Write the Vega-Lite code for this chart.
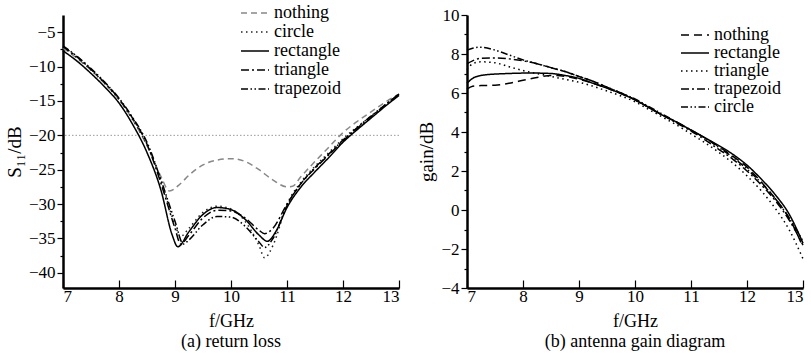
{
  "$schema": "https://vega.github.io/schema/vega-lite/v6.json",
  "padding": {"left": 5, "top": 6, "right": 5, "bottom": 2},
  "autosize": {"type": "pad"},
  "spacing": 68,
  "bounds": "flush",
  "config": {
    "font": "Times New Roman, Liberation Serif, serif",
    "view": {"stroke": null},
    "text": {"font": "Times New Roman, Liberation Serif, serif"},
    "axis": {
      "labelFont": "Times New Roman, Liberation Serif, serif", "labelFontSize": 17, "labelColor": "black", "labelOverlap": false,
      "titleFont": "Times New Roman, Liberation Serif, serif", "titleFontSize": 19, "titleFontWeight": "normal", "titleColor": "black",
      "domainColor": "black", "domainWidth": 2.5, "tickColor": "black", "tickWidth": 1.2, "grid": false
    },
    "legend": {
      "labelFont": "Times New Roman, Liberation Serif, serif", "labelFontSize": 18, "labelColor": "black",
      "symbolType": "stroke", "symbolSize": 784, "symbolStrokeWidth": 1.5, "labelOffset": 4, "rowPadding": 0
    },
    "title": {"font": "Times New Roman, Liberation Serif, serif", "fontSize": 19, "fontWeight": "normal", "color": "black"}
  },
  "datasets": {
    "s11": [
      {"s":"nothing","f":7,"v":-7.3},{"s":"nothing","f":7.25,"v":-8.8},{"s":"nothing","f":7.5,"v":-10.5},{"s":"nothing","f":7.75,"v":-12.5},{"s":"nothing","f":8,"v":-14.8},{"s":"nothing","f":8.25,"v":-17.8},{"s":"nothing","f":8.5,"v":-21.5},{"s":"nothing","f":8.75,"v":-26.0},{"s":"nothing","f":8.9,"v":-28.1},{"s":"nothing","f":9.1,"v":-27.0},{"s":"nothing","f":9.25,"v":-25.8},{"s":"nothing","f":9.5,"v":-24.3},{"s":"nothing","f":9.75,"v":-23.6},{"s":"nothing","f":10,"v":-23.4},{"s":"nothing","f":10.25,"v":-23.8},{"s":"nothing","f":10.5,"v":-25.0},{"s":"nothing","f":10.75,"v":-26.5},{"s":"nothing","f":11,"v":-27.5},{"s":"nothing","f":11.1,"v":-27.4},{"s":"nothing","f":11.25,"v":-26.0},{"s":"nothing","f":11.5,"v":-23.8},{"s":"nothing","f":11.75,"v":-21.7},{"s":"nothing","f":12,"v":-19.6},{"s":"nothing","f":12.25,"v":-18.0},{"s":"nothing","f":12.5,"v":-16.6},{"s":"nothing","f":12.75,"v":-15.2},{"s":"nothing","f":13,"v":-14.0},
      {"s":"circle","f":7,"v":-7.2},{"s":"circle","f":7.25,"v":-8.7},{"s":"circle","f":7.5,"v":-10.5},{"s":"circle","f":7.75,"v":-12.5},{"s":"circle","f":8,"v":-14.8},{"s":"circle","f":8.25,"v":-17.8},{"s":"circle","f":8.5,"v":-21.4},{"s":"circle","f":8.75,"v":-26.5},{"s":"circle","f":9,"v":-33.0},{"s":"circle","f":9.1,"v":-34.7},{"s":"circle","f":9.25,"v":-33.5},{"s":"circle","f":9.5,"v":-31.2},{"s":"circle","f":9.75,"v":-30.3},{"s":"circle","f":10,"v":-30.7},{"s":"circle","f":10.25,"v":-32.5},{"s":"circle","f":10.5,"v":-36.0},{"s":"circle","f":10.6,"v":-37.8},{"s":"circle","f":10.75,"v":-36.0},{"s":"circle","f":11,"v":-30.0},{"s":"circle","f":11.25,"v":-26.8},{"s":"circle","f":11.5,"v":-24.5},{"s":"circle","f":11.75,"v":-22.5},{"s":"circle","f":12,"v":-20.5},{"s":"circle","f":12.25,"v":-18.8},{"s":"circle","f":12.5,"v":-17.2},{"s":"circle","f":12.75,"v":-15.6},{"s":"circle","f":13,"v":-14.0},
      {"s":"rectangle","f":7,"v":-7.7},{"s":"rectangle","f":7.25,"v":-9.2},{"s":"rectangle","f":7.5,"v":-11.0},{"s":"rectangle","f":7.75,"v":-13.0},{"s":"rectangle","f":8,"v":-15.3},{"s":"rectangle","f":8.25,"v":-18.5},{"s":"rectangle","f":8.5,"v":-22.5},{"s":"rectangle","f":8.75,"v":-28.0},{"s":"rectangle","f":8.95,"v":-34.5},{"s":"rectangle","f":9.05,"v":-36.2},{"s":"rectangle","f":9.25,"v":-34.0},{"s":"rectangle","f":9.5,"v":-31.5},{"s":"rectangle","f":9.75,"v":-30.5},{"s":"rectangle","f":10,"v":-30.8},{"s":"rectangle","f":10.25,"v":-32.2},{"s":"rectangle","f":10.5,"v":-34.5},{"s":"rectangle","f":10.65,"v":-35.4},{"s":"rectangle","f":10.8,"v":-34.0},{"s":"rectangle","f":11,"v":-30.5},{"s":"rectangle","f":11.25,"v":-27.5},{"s":"rectangle","f":11.5,"v":-25.3},{"s":"rectangle","f":11.75,"v":-23.2},{"s":"rectangle","f":12,"v":-21.0},{"s":"rectangle","f":12.25,"v":-19.2},{"s":"rectangle","f":12.5,"v":-17.5},{"s":"rectangle","f":12.75,"v":-15.8},{"s":"rectangle","f":13,"v":-14.2},
      {"s":"triangle","f":7,"v":-7.1},{"s":"triangle","f":7.25,"v":-8.6},{"s":"triangle","f":7.5,"v":-10.4},{"s":"triangle","f":7.75,"v":-12.4},{"s":"triangle","f":8,"v":-14.7},{"s":"triangle","f":8.25,"v":-17.6},{"s":"triangle","f":8.5,"v":-21.3},{"s":"triangle","f":8.75,"v":-27.0},{"s":"triangle","f":9,"v":-33.5},{"s":"triangle","f":9.1,"v":-35.8},{"s":"triangle","f":9.25,"v":-34.5},{"s":"triangle","f":9.5,"v":-32.0},{"s":"triangle","f":9.75,"v":-30.9},{"s":"triangle","f":10,"v":-31.0},{"s":"triangle","f":10.25,"v":-32.0},{"s":"triangle","f":10.5,"v":-33.8},{"s":"triangle","f":10.6,"v":-34.3},{"s":"triangle","f":10.75,"v":-33.5},{"s":"triangle","f":11,"v":-30.0},{"s":"triangle","f":11.25,"v":-27.0},{"s":"triangle","f":11.5,"v":-24.8},{"s":"triangle","f":11.75,"v":-22.8},{"s":"triangle","f":12,"v":-20.8},{"s":"triangle","f":12.25,"v":-19.0},{"s":"triangle","f":12.5,"v":-17.3},{"s":"triangle","f":12.75,"v":-15.6},{"s":"triangle","f":13,"v":-14.0},
      {"s":"trapezoid","f":7,"v":-7.0},{"s":"trapezoid","f":7.25,"v":-8.5},{"s":"trapezoid","f":7.5,"v":-10.3},{"s":"trapezoid","f":7.75,"v":-12.3},{"s":"trapezoid","f":8,"v":-14.6},{"s":"trapezoid","f":8.25,"v":-17.5},{"s":"trapezoid","f":8.5,"v":-21.0},{"s":"trapezoid","f":8.75,"v":-26.5},{"s":"trapezoid","f":9,"v":-32.5},{"s":"trapezoid","f":9.15,"v":-35.8},{"s":"trapezoid","f":9.25,"v":-35.2},{"s":"trapezoid","f":9.5,"v":-33.0},{"s":"trapezoid","f":9.75,"v":-31.8},{"s":"trapezoid","f":10,"v":-31.9},{"s":"trapezoid","f":10.25,"v":-33.2},{"s":"trapezoid","f":10.5,"v":-35.5},{"s":"trapezoid","f":10.6,"v":-36.3},{"s":"trapezoid","f":10.75,"v":-35.0},{"s":"trapezoid","f":11,"v":-30.2},{"s":"trapezoid","f":11.25,"v":-27.0},{"s":"trapezoid","f":11.5,"v":-24.7},{"s":"trapezoid","f":11.75,"v":-22.7},{"s":"trapezoid","f":12,"v":-20.7},{"s":"trapezoid","f":12.25,"v":-18.9},{"s":"trapezoid","f":12.5,"v":-17.2},{"s":"trapezoid","f":12.75,"v":-15.6},{"s":"trapezoid","f":13,"v":-14.0}
    ],
    "gain": [
      {"s":"nothing","f":7,"v":6.2},{"s":"nothing","f":7.1,"v":6.35},{"s":"nothing","f":7.25,"v":6.38},{"s":"nothing","f":7.5,"v":6.4},{"s":"nothing","f":7.75,"v":6.5},{"s":"nothing","f":8,"v":6.65},{"s":"nothing","f":8.25,"v":6.8},{"s":"nothing","f":8.5,"v":6.9},{"s":"nothing","f":8.75,"v":6.85},{"s":"nothing","f":9,"v":6.7},{"s":"nothing","f":9.25,"v":6.5},{"s":"nothing","f":9.5,"v":6.25},{"s":"nothing","f":9.75,"v":5.97},{"s":"nothing","f":10,"v":5.65},{"s":"nothing","f":10.25,"v":5.25},{"s":"nothing","f":10.5,"v":4.85},{"s":"nothing","f":10.75,"v":4.5},{"s":"nothing","f":11,"v":4.1},{"s":"nothing","f":11.25,"v":3.7},{"s":"nothing","f":11.5,"v":3.25},{"s":"nothing","f":11.75,"v":2.75},{"s":"nothing","f":12,"v":2.2},{"s":"nothing","f":12.25,"v":1.45},{"s":"nothing","f":12.5,"v":0.6},{"s":"nothing","f":12.75,"v":-0.4},{"s":"nothing","f":13,"v":-1.9},
      {"s":"rectangle","f":7,"v":6.5},{"s":"rectangle","f":7.1,"v":6.75},{"s":"rectangle","f":7.25,"v":6.9},{"s":"rectangle","f":7.5,"v":6.97},{"s":"rectangle","f":7.75,"v":7.0},{"s":"rectangle","f":8,"v":7.02},{"s":"rectangle","f":8.25,"v":7.02},{"s":"rectangle","f":8.5,"v":7.0},{"s":"rectangle","f":8.75,"v":6.9},{"s":"rectangle","f":9,"v":6.75},{"s":"rectangle","f":9.25,"v":6.5},{"s":"rectangle","f":9.5,"v":6.25},{"s":"rectangle","f":9.75,"v":5.97},{"s":"rectangle","f":10,"v":5.65},{"s":"rectangle","f":10.25,"v":5.25},{"s":"rectangle","f":10.5,"v":4.85},{"s":"rectangle","f":10.75,"v":4.5},{"s":"rectangle","f":11,"v":4.1},{"s":"rectangle","f":11.25,"v":3.7},{"s":"rectangle","f":11.5,"v":3.3},{"s":"rectangle","f":11.75,"v":2.85},{"s":"rectangle","f":12,"v":2.3},{"s":"rectangle","f":12.25,"v":1.6},{"s":"rectangle","f":12.5,"v":0.8},{"s":"rectangle","f":12.75,"v":-0.2},{"s":"rectangle","f":13,"v":-1.7},
      {"s":"triangle","f":7,"v":7.2},{"s":"triangle","f":7.1,"v":7.5},{"s":"triangle","f":7.25,"v":7.6},{"s":"triangle","f":7.5,"v":7.55},{"s":"triangle","f":7.75,"v":7.35},{"s":"triangle","f":8,"v":7.15},{"s":"triangle","f":8.25,"v":7.0},{"s":"triangle","f":8.5,"v":6.85},{"s":"triangle","f":8.75,"v":6.7},{"s":"triangle","f":9,"v":6.55},{"s":"triangle","f":9.25,"v":6.35},{"s":"triangle","f":9.5,"v":6.1},{"s":"triangle","f":9.75,"v":5.85},{"s":"triangle","f":10,"v":5.55},{"s":"triangle","f":10.25,"v":5.15},{"s":"triangle","f":10.5,"v":4.75},{"s":"triangle","f":10.75,"v":4.35},{"s":"triangle","f":11,"v":3.9},{"s":"triangle","f":11.25,"v":3.45},{"s":"triangle","f":11.5,"v":2.95},{"s":"triangle","f":11.75,"v":2.4},{"s":"triangle","f":12,"v":1.75},{"s":"triangle","f":12.25,"v":1.0},{"s":"triangle","f":12.5,"v":0.1},{"s":"triangle","f":12.75,"v":-1.0},{"s":"triangle","f":13,"v":-2.5},
      {"s":"trapezoid","f":7,"v":7.5},{"s":"trapezoid","f":7.1,"v":7.65},{"s":"trapezoid","f":7.25,"v":7.78},{"s":"trapezoid","f":7.5,"v":7.8},{"s":"trapezoid","f":7.75,"v":7.75},{"s":"trapezoid","f":8,"v":7.65},{"s":"trapezoid","f":8.25,"v":7.5},{"s":"trapezoid","f":8.5,"v":7.3},{"s":"trapezoid","f":8.75,"v":7.1},{"s":"trapezoid","f":9,"v":6.85},{"s":"trapezoid","f":9.25,"v":6.6},{"s":"trapezoid","f":9.5,"v":6.3},{"s":"trapezoid","f":9.75,"v":6.0},{"s":"trapezoid","f":10,"v":5.65},{"s":"trapezoid","f":10.25,"v":5.25},{"s":"trapezoid","f":10.5,"v":4.85},{"s":"trapezoid","f":10.75,"v":4.45},{"s":"trapezoid","f":11,"v":4.05},{"s":"trapezoid","f":11.25,"v":3.6},{"s":"trapezoid","f":11.5,"v":3.1},{"s":"trapezoid","f":11.75,"v":2.6},{"s":"trapezoid","f":12,"v":2.0},{"s":"trapezoid","f":12.25,"v":1.3},{"s":"trapezoid","f":12.5,"v":0.5},{"s":"trapezoid","f":12.75,"v":-0.5},{"s":"trapezoid","f":13,"v":-1.8},
      {"s":"circle","f":7,"v":8.2},{"s":"circle","f":7.1,"v":8.3},{"s":"circle","f":7.25,"v":8.35},{"s":"circle","f":7.5,"v":8.2},{"s":"circle","f":7.75,"v":7.95},{"s":"circle","f":8,"v":7.7},{"s":"circle","f":8.25,"v":7.5},{"s":"circle","f":8.5,"v":7.3},{"s":"circle","f":8.75,"v":7.1},{"s":"circle","f":9,"v":6.85},{"s":"circle","f":9.25,"v":6.6},{"s":"circle","f":9.5,"v":6.3},{"s":"circle","f":9.75,"v":6.0},{"s":"circle","f":10,"v":5.7},{"s":"circle","f":10.25,"v":5.3},{"s":"circle","f":10.5,"v":4.9},{"s":"circle","f":10.75,"v":4.5},{"s":"circle","f":11,"v":4.1},{"s":"circle","f":11.25,"v":3.7},{"s":"circle","f":11.5,"v":3.2},{"s":"circle","f":11.75,"v":2.7},{"s":"circle","f":12,"v":2.1},{"s":"circle","f":12.25,"v":1.4},{"s":"circle","f":12.5,"v":0.6},{"s":"circle","f":12.75,"v":-0.4},{"s":"circle","f":13,"v":-1.6}
    ],
    "ref": [{"v": -20}]
  },
  "resolve": {"legend": {"color": "independent", "strokeDash": "independent"}, "scale": {"color": "independent", "strokeDash": "independent"}},
  "hconcat": [
    {
      "width": 336, "height": 273,
      "title": {"text": "(a) return loss", "orient": "bottom", "offset": 3, "fontSize": 18, "font": "Times New Roman, Liberation Serif, serif"},
      "layer": [
        {
          "data": {"name": "ref"},
          "mark": {"type": "rule", "color": "#999999", "strokeDash": [1.5, 2], "strokeWidth": 1},
          "encoding": {"y": {"field": "v", "type": "quantitative", "scale": {"domain": [-42.2, -2.5], "nice": false, "zero": false},
              "axis": {"title": "S₁₁/dB", "format": "d", "values": [-40,-37.5,-35,-32.5,-30,-27.5,-25,-22.5,-20,-17.5,-15,-12.5,-10,-7.5,-5],
                "labelExpr": "datum.value % 5 === 0 ? datum.label : ''", "labelOverlap": false,
                "labelFont": "Times New Roman, Liberation Serif, serif", "titleFont": "Times New Roman, Liberation Serif, serif",
                "tickSize": {"condition": {"test": "datum.value % 5 === 0", "value": 6}, "value": 3},
                "labelPadding": 2, "titlePadding": 4}}}
        },
        {
          "data": {"name": "s11"},
          "mark": {"type": "line", "interpolate": "monotone", "strokeWidth": 1.5},
          "encoding": {
            "x": {"field": "f", "type": "quantitative", "scale": {"domain": [7, 13], "nice": false},
              "axis": {"title": "f/GHz", "format": "d", "values": [7,7.5,8,8.5,9,9.5,10,10.5,11,11.5,12,12.5,13],
                "labelExpr": "datum.value % 1 === 0 ? datum.label : ''", "labelOverlap": false,
                "labelFont": "Times New Roman, Liberation Serif, serif", "titleFont": "Times New Roman, Liberation Serif, serif", "titleFontSize": 18,
                "tickSize": {"condition": {"test": "datum.value % 1 === 0", "value": -8}, "value": -4},
                "labelPadding": 8, "titlePadding": 8}},
            "y": {"field": "v", "type": "quantitative", "scale": {"domain": [-42.2, -2.5], "nice": false, "zero": false},
              "axis": {"title": "S₁₁/dB", "format": "d", "values": [-40,-37.5,-35,-32.5,-30,-27.5,-25,-22.5,-20,-17.5,-15,-12.5,-10,-7.5,-5],
                "labelExpr": "datum.value % 5 === 0 ? datum.label : ''", "labelOverlap": false,
                "labelFont": "Times New Roman, Liberation Serif, serif", "titleFont": "Times New Roman, Liberation Serif, serif",
                "tickSize": {"condition": {"test": "datum.value % 5 === 0", "value": 6}, "value": 3},
                "labelPadding": 2, "titlePadding": 4}},
            "color": {"field": "s", "type": "nominal",
              "scale": {"domain": ["nothing","circle","rectangle","triangle","trapezoid"], "range": ["#888888","#222222","black","black","black"]},
              "legend": {"title": null, "orient": "none", "legendX": 177, "legendY": -9, "clipHeight": 14, "rowPadding": 1, "labelFont": "Times New Roman, Liberation Serif, serif"}},
            "strokeDash": {"field": "s", "type": "nominal",
              "scale": {"domain": ["nothing","circle","rectangle","triangle","trapezoid"], "range": [[6,4],[1.5,3.5],[1,0],[8,3,2,3],[7,2.5,1.5,2.5,1.5,2.5]]},
              "legend": {"title": null, "orient": "none", "legendX": 177, "legendY": -9, "clipHeight": 14, "rowPadding": 1, "labelFont": "Times New Roman, Liberation Serif, serif"}}
          }
        }
      ]
    },
    {
      "width": 336, "height": 273,
      "title": {"text": "(b) antenna gain diagram", "orient": "bottom", "offset": 3, "fontSize": 18, "font": "Times New Roman, Liberation Serif, serif"},
      "data": {"name": "gain"},
      "mark": {"type": "line", "interpolate": "monotone", "strokeWidth": 1.5, "color": "black"},
      "encoding": {
        "x": {"field": "f", "type": "quantitative", "scale": {"domain": [7, 13], "nice": false},
          "axis": {"title": "f/GHz", "format": "d", "values": [7,7.5,8,8.5,9,9.5,10,10.5,11,11.5,12,12.5,13],
            "labelExpr": "datum.value % 1 === 0 ? datum.label : ''", "labelOverlap": false,
            "labelFont": "Times New Roman, Liberation Serif, serif", "titleFont": "Times New Roman, Liberation Serif, serif", "titleFontSize": 18,
            "tickSize": {"condition": {"test": "datum.value % 1 === 0", "value": -8}, "value": -4},
            "labelPadding": 8, "titlePadding": 8}},
        "y": {"field": "v", "type": "quantitative", "scale": {"domain": [-4, 10], "nice": false, "zero": false},
          "axis": {"title": "gain/dB", "format": "d", "values": [-4,-3,-2,-1,0,1,2,3,4,5,6,7,8,9,10],
            "labelExpr": "datum.value % 2 === 0 ? datum.label : ''", "labelOverlap": false,
            "labelFont": "Times New Roman, Liberation Serif, serif", "titleFont": "Times New Roman, Liberation Serif, serif",
            "tickSize": {"condition": {"test": "datum.value % 2 === 0", "value": 6}, "value": 3},
            "labelPadding": 2, "titlePadding": 4}},
        "color": {"field": "s", "type": "nominal",
          "scale": {"domain": ["nothing","rectangle","triangle","trapezoid","circle"], "range": ["black","black","black","black","black"]},
          "legend": {"title": null, "orient": "none", "legendX": 213, "legendY": 13, "clipHeight": 14, "rowPadding": 0, "labelFont": "Times New Roman, Liberation Serif, serif"}},
        "strokeDash": {"field": "s", "type": "nominal",
          "scale": {"domain": ["nothing","rectangle","triangle","trapezoid","circle"], "range": [[8,5],[1,0],[1.5,3.5],[8,3,2,3],[7,2.5,1.5,2.5,1.5,2.5]]},
          "legend": {"title": null, "orient": "none", "legendX": 213, "legendY": 13, "clipHeight": 14, "rowPadding": 0, "labelFont": "Times New Roman, Liberation Serif, serif"}}
      }
    }
  ]
}
